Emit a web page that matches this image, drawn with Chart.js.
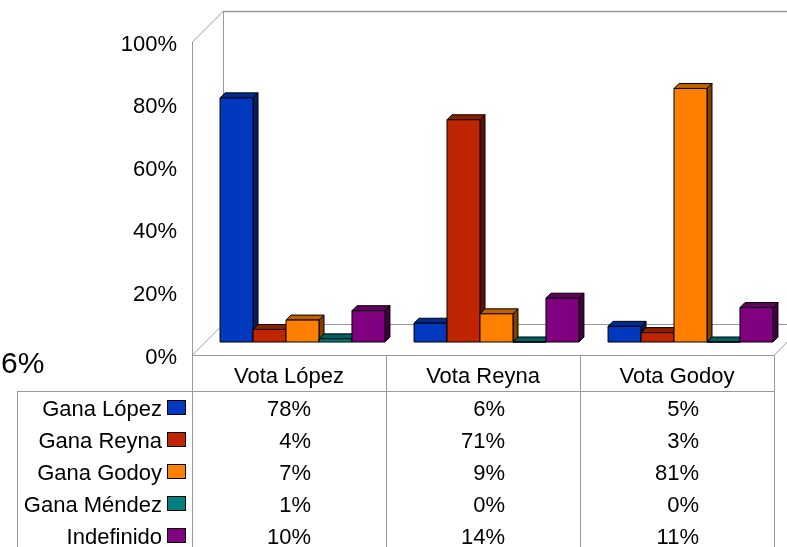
<!DOCTYPE html>
<html>
<head>
<meta charset="utf-8">
<style>
  html, body { margin: 0; padding: 0; background: #fff; overflow: hidden; }
  #wrap { width: 787px; height: 547px; }
</style>
</head>
<body>
<div id="wrap"><canvas id="chart" width="787" height="547"></canvas></div>
<script src="https://cdn.jsdelivr.net/npm/chart.js@4/dist/chart.umd.min.js"></script>
<script>
const categories = ['Vota López', 'Vota Reyna', 'Vota Godoy'];
const seriesNames = ['Gana López', 'Gana Reyna', 'Gana Godoy', 'Gana Méndez', 'Indefinido'];
const ganaLopez = [78, 6, 5];
const ganaReyna = [4, 71, 3];
const ganaGodoy = [7, 9, 81];
const ganaMendez = [1, 0, 0];
const indefinido = [10, 14, 11];
const yTicks = [0, 20, 40, 60, 80, 100];
const strayLabel = '6%';

const FONT = '"Liberation Sans", Arial, sans-serif';
const colors = ['#0039BF', '#BF2600', '#FF8000', '#008080', '#800080'];
const tops = ['#002B8F', '#8F1D00', '#BF6000', '#006060', '#600060'];
const sides = ['#001D60', '#601300', '#804000', '#004040', '#400040'];
const WALL = '#999999';

// how far the bars and the back wall sit behind the front plane
const barShift = { x: 13.5, y: -13 };
const barDepth = 5;
const wallDepth = 31;

function line(ctx, x1, y1, x2, y2) {
    ctx.beginPath();
    ctx.moveTo(x1, y1);
    ctx.lineTo(x2, y2);
    ctx.stroke();
}

const walls = {
    id: 'walls',
    beforeDatasetsDraw(chart) {
        const ctx = chart.ctx, a = chart.chartArea;
        ctx.save();
        ctx.strokeStyle = WALL;
        ctx.lineWidth = 1;
        // side wall and back wall
        line(ctx, a.left + 0.5, a.top, a.left + 0.5, a.bottom);
        line(ctx, a.left + 0.5, a.top, a.left + wallDepth + 0.5, a.top - wallDepth);
        line(ctx, a.left + 0.5, a.bottom, a.left + wallDepth + 0.5, a.bottom - wallDepth);
        line(ctx, a.left + wallDepth + 0.5, a.top - wallDepth, a.left + wallDepth + 0.5, a.bottom - wallDepth);
        ctx.lineWidth = 1.5;
        line(ctx, a.left + wallDepth, a.top - wallDepth + 0.5, a.right + wallDepth, a.top - wallDepth + 0.5);
        ctx.lineWidth = 1;
        line(ctx, a.left + wallDepth, a.bottom - wallDepth + 0.5, a.right + wallDepth, a.bottom - wallDepth + 0.5);
        line(ctx, a.right + 0.5, a.bottom, a.right + wallDepth, a.bottom - wallDepth);
        ctx.restore();
    }
};

const bars3d = {
    id: 'bars3d',
    // chart.js paints the last dataset first, these need the first one first
    beforeDatasetDraw() {
        return false;
    },
    afterDatasetsDraw(chart) {
        const ctx = chart.ctx, d = barDepth;
        ctx.save();
        ctx.translate(barShift.x, barShift.y);
        chart.data.datasets.forEach((ds, i) => {
            chart.getDatasetMeta(i).data.forEach(bar => {
                const p = bar.getProps(['x', 'y', 'base', 'width'], true);
                const l = p.x - p.width / 2, r = p.x + p.width / 2;
                ctx.strokeStyle = '#000';
                ctx.lineWidth = 1;
                ctx.lineJoin = 'round';
                ctx.fillStyle = sides[i];
                ctx.beginPath();
                ctx.moveTo(r, p.y);
                ctx.lineTo(r + d, p.y - d);
                ctx.lineTo(r + d, p.base - d);
                ctx.lineTo(r, p.base);
                ctx.closePath();
                ctx.fill();
                ctx.stroke();
                ctx.fillStyle = tops[i];
                ctx.beginPath();
                ctx.moveTo(l, p.y);
                ctx.lineTo(l + d, p.y - d);
                ctx.lineTo(r + d, p.y - d);
                ctx.lineTo(r, p.y);
                ctx.closePath();
                ctx.fill();
                ctx.stroke();
                bar.draw(ctx);
                ctx.strokeRect(l, p.y, p.width, p.base - p.y);
            });
        });
        ctx.restore();
    }
};

const dataTable = {
    id: 'dataTable',
    afterDraw(chart) {
        const ctx = chart.ctx, a = chart.chartArea, x = chart.scales.x;
        const rowY = [408, 440, 472, 504, 536];
        const head = 391, tableLeft = 17, keyLeft = 167, keyW = 19, keyH = 15;
        ctx.save();
        ctx.strokeStyle = WALL;
        ctx.lineWidth = 1;
        line(ctx, tableLeft, head + 0.5, a.right, head + 0.5);
        line(ctx, a.left, a.bottom + 0.5, a.right, a.bottom + 0.5);
        line(ctx, tableLeft + 0.5, head, tableLeft + 0.5, 547);
        categories.forEach((c, i) => {
            line(ctx, x.getPixelForValue(i) - 97 + 0.5, a.bottom, x.getPixelForValue(i) - 97 + 0.5, 547);
        });
        line(ctx, a.right + 0.5, a.bottom, a.right + 0.5, 547);

        ctx.font = '22px ' + FONT;
        ctx.textBaseline = 'middle';
        chart.data.datasets.forEach((ds, i) => {
            ctx.fillStyle = '#000';
            ctx.textAlign = 'right';
            ctx.fillText(seriesNames[i], 162, rowY[i] + 1.5);
            ctx.fillStyle = colors[i];
            ctx.fillRect(keyLeft, rowY[i] - 8, keyW, keyH);
            ctx.strokeStyle = '#000';
            ctx.strokeRect(keyLeft + 0.5, rowY[i] - 8 + 0.5, keyW - 1, keyH - 1);
            ctx.fillStyle = '#000';
            ctx.textAlign = 'right';
            ds.data.forEach((v, j) => {
                ctx.fillText(v + '%', x.getPixelForValue(j) + 22, rowY[i] + 1.5);
            });
        });
        ctx.font = '30px ' + FONT;
        ctx.textAlign = 'left';
        ctx.fillText(strayLabel, 1, 365);
        ctx.restore();
    }
};

new Chart(document.getElementById('chart'), {
    type: 'bar',
    data: {
        labels: categories,
        datasets: [ganaLopez, ganaReyna, ganaGodoy, ganaMendez, indefinido].map((values, i) => ({
            label: seriesNames[i],
            data: values,
            backgroundColor: colors[i],
            borderColor: '#000',
            borderWidth: 0,
            clip: false,
            categoryPercentage: 0.85,
            barPercentage: 1
        }))
    },
    options: {
        responsive: false,
        animation: false,
        events: [],
        layout: { padding: { left: 0, top: 42, right: 13, bottom: 156 } },
        plugins: { legend: { display: false }, tooltip: { enabled: false } },
        scales: {
            x: {
                afterFit(scale) {
                    scale.height = 36;
                },
                grid: { display: false },
                border: { display: false },
                ticks: { color: '#000', font: { family: FONT, size: 22 }, padding: 1, maxRotation: 0 }
            },
            y: {
                min: 0,
                max: 100,
                afterBuildTicks(scale) {
                    scale.ticks = yTicks.map(v => ({ value: v }));
                },
                afterFit(scale) {
                    scale.width = 192;
                },
                grid: { display: false },
                border: { display: false },
                ticks: { color: '#000', font: { family: FONT, size: 22 }, padding: 7, labelOffset: 2.5, callback: v => v + '%' }
            }
        }
    },
    plugins: [walls, bars3d, dataTable]
});
</script>
</body>
</html>
